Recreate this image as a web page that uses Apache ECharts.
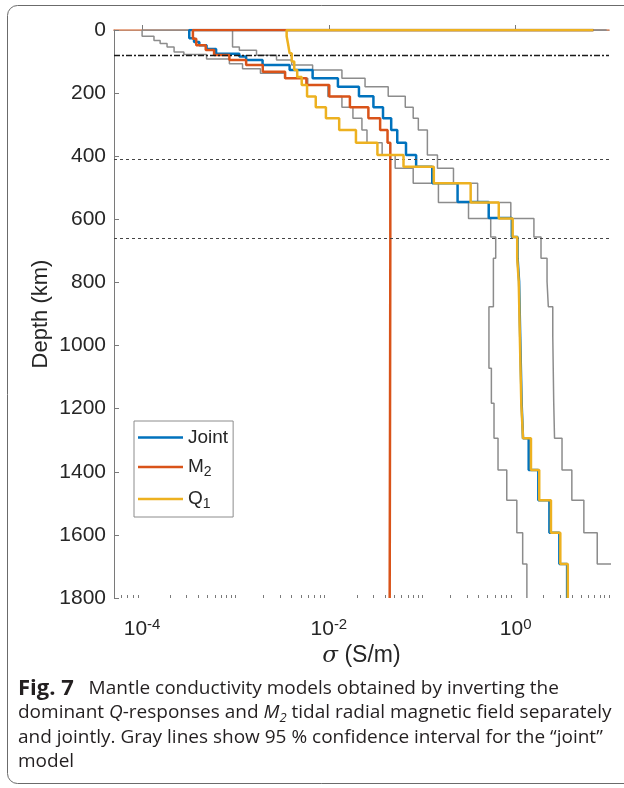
<!DOCTYPE html>
<html>
<head>
<meta charset="utf-8">
<title>Mantle conductivity models</title>
<script src="https://cdn.jsdelivr.net/npm/echarts@6/dist/echarts.min.js"></script>
<style>html,body{margin:0;padding:0;background:#fff;}</style>
</head>
<body>
<div id="main" style="width:624px;height:788px;"></div>
<script>
// layer boundaries (km) and conductivities (S/m)
var jointDepth = [0, 26, 38, 48, 60, 75, 84, 95, 111, 127, 153, 180, 210, 245, 280, 317, 357, 396, 433, 486, 545, 596, 656, 723, 797, 972, 1183, 1294, 1394, 1490, 1593, 1692, 1800];
var jointSigma = [3.2e-4, 3.6e-4, 4.1e-4, 4.9e-4, 6.2e-4, 1.1e-3, 1.3e-3, 1.95e-3, 3.8e-3, 6.7e-3, 0.0125, 0.021, 0.030, 0.038, 0.0465, 0.054, 0.067, 0.086, 0.128, 0.239, 0.515, 0.91, 1.05, 1.09, 1.12, 1.16, 1.20, 1.38, 1.75, 2.30, 2.94, 3.56];

var m2Depth = [0, 28, 48, 63, 79, 95, 111, 132, 153, 174, 211, 245, 280, 317, 357, 700, 1200, 1800];
var m2Sigma = [3.5e-4, 3.8e-4, 4.8e-4, 5.9e-4, 8.6e-4, 1.3e-3, 1.96e-3, 3.4e-3, 5.75e-3, 0.0101, 0.0168, 0.0265, 0.0354, 0.0425, 0.0455, 0.0452, 0.0448];

var q1Depth = [0, 20, 45, 74, 100, 127, 149, 174, 211, 245, 280, 317, 357, 396, 433, 486, 547, 597, 656, 723, 797, 972, 1183, 1294, 1394, 1490, 1593, 1692, 1800];
var q1Sigma = [3.53e-3, 3.66e-3, 3.8e-3, 4.0e-3, 4.26e-3, 4.58e-3, 5.12e-3, 5.84e-3, 7.24e-3, 9.3e-3, 0.0129, 0.0195, 0.0331, 0.063, 0.133, 0.33, 0.66, 0.93, 1.04, 1.08, 1.11, 1.15, 1.20, 1.46, 1.79, 2.39, 3.01, 3.62];

// 95 % confidence interval of the joint model
var lowDepth = [0, 20, 33, 43, 54, 70, 78, 92, 107, 123, 137, 153, 174, 211, 245, 280, 317, 357, 396, 438, 486, 547, 597, 656, 723, 877, 1072, 1183, 1294, 1394, 1490, 1593, 1692, 1800];
var lowSigma = [1.0e-4, 1.34e-4, 1.56e-4, 1.85e-4, 2.2e-4, 2.8e-4, 4.9e-4, 8.6e-4, 1.19e-3, 1.85e-3, 3.36e-3, 5.94e-3, 9.75e-3, 0.0138, 0.0181, 0.0226, 0.0256, 0.0372, 0.0513, 0.080, 0.149, 0.313, 0.541, 0.612, 0.578, 0.518, 0.55, 0.587, 0.648, 0.804, 1.03, 1.19, 1.32];

var upDepth = [0, 54, 64, 80, 95, 111, 127, 153, 180, 210, 245, 280, 317, 396, 438, 486, 547, 597, 656, 723, 797, 877, 972, 1183, 1294, 1394, 1490, 1593, 1692, 1800];
var upSigma = [9.3e-4, 1.1e-3, 1.68e-3, 2.75e-3, 4.0e-3, 6.7e-3, 0.0138, 0.0244, 0.0432, 0.0658, 0.080, 0.0908, 0.1135, 0.1455, 0.216, 0.392, 0.888, 1.57, 1.87, 2.17, 2.24, 2.5, 2.56, 2.61, 3.14, 4.0, 5.38, 7.48, 12];

// surface value each profile starts from (depth 0)
var surfModel = 6.8;
var surfCI = 9.4;

var lidDepth = 80;
var tzDepths = [410, 660];
var xLabelValues = [1e-4, 1e-2, 1];

var font = 'Liberation Sans';
var capFont = 'Open Sans';
var txt = '#262626';
var axisGray = '#7a7a7a';

function stairs(depths, sigmas, top) {
    var pts = [[top, 0]];
    for (var i = 0; i < sigmas.length; i++) {
        pts.push([sigmas[i], depths[i]]);
        pts.push([sigmas[i], depths[i + 1]]);
    }
    return pts;
}

// minor ticks of the log axis
var minorTicks = [];
for (var k = -5; k <= 1; k++) {
    for (var m = 1; m <= 9; m++) {
        var v = m * Math.pow(10, k);
        if (v >= 5e-5 && v <= 10 && !(m == 1 && k % 2 == 0 && k <= 0)) minorTicks.push(v);
    }
}

var chart = echarts.init(document.getElementById('main'));

function line(name, data, color, width, z) {
    return {
        name: name,
        type: 'line',
        data: data,
        symbol: 'none',
        showSymbol: false,
        clip: true,
        z: z,
        color: color,
        lineStyle: {color: color, width: width},
        emphasis: {disabled: true},
        animation: false
    };
}

var ciLow = line('ciLow', stairs(lowDepth, lowSigma, surfCI), '#8c8c8c', 1.5, 2);
ciLow.markLine = {
    silent: true,
    symbol: ['none', 'none'],
    label: {show: false},
    animation: false,
    data: [
        {yAxis: lidDepth, lineStyle: {type: [6, 2, 2, 2], color: '#1a1a1a', width: 1.3}},
        {yAxis: tzDepths[0], lineStyle: {type: [3, 3], color: '#444', width: 1}},
        {yAxis: tzDepths[1], lineStyle: {type: [3, 3], color: '#444', width: 1}}
    ]
};

var option = {
    backgroundColor: '#fff',
    animation: false,
    grid: {left: 114, right: 15, top: 30, bottom: 190},
    legend: {
        data: [
            {name: 'Joint', icon: 'rect'},
            {name: 'M2', icon: 'rect'},
            {name: 'Q1', icon: 'rect'}
        ],
        orient: 'vertical',
        left: 134,
        top: 421,
        itemWidth: 45,
        itemHeight: 2.5,
        itemGap: 10.5,
        padding: [7, 5, 6, 4],
        borderColor: '#8c8c8c',
        borderWidth: 1,
        borderRadius: 0,
        backgroundColor: '#fff',
        selectedMode: false,
        itemStyle: {borderWidth: 0},
        formatter: function (n) {
            if (n == 'M2') return '{t|M}{s|2}';
            if (n == 'Q1') return '{t|Q}{s|1}';
            return '{t|' + n + '}';
        },
        textStyle: {
            color: txt,
            fontFamily: font,
            rich: {
                t: {fontSize: 19, lineHeight: 24, color: txt, fontFamily: font},
                s: {fontSize: 14, lineHeight: 12, verticalAlign: 'bottom', color: txt, fontFamily: font}
            }
        }
    },
    xAxis: [{
        type: 'log',
        logBase: 10,
        min: 5e-5,
        max: 10,
        position: 'bottom',
        axisLine: {show: true, lineStyle: {color: axisGray, width: 1}},
        axisTick: {show: true, inside: true, length: 5, customValues: xLabelValues, lineStyle: {color: axisGray}},
        axisLabel: {
            customValues: xLabelValues,
            margin: 19,
            formatter: function (v) {
                return '{b|10}{e|' + Math.round(Math.log10(v)) + '}';
            },
            rich: {
                b: {fontSize: 21, lineHeight: 24, color: txt, fontFamily: font},
                e: {fontSize: 15, lineHeight: 10, verticalAlign: 'top', color: txt, fontFamily: font}
            }
        },
        splitLine: {show: false},
        name: '{i|σ} (S/m)',
        nameLocation: 'middle',
        nameGap: 44,
        nameTextStyle: {
            fontSize: 23, color: txt, fontFamily: font,
            rich: {
                i: {fontSize: 23, fontStyle: 'italic', color: txt, fontFamily: 'DejaVu Serif'}
            }
        }
    }, {
        type: 'log',
        logBase: 10,
        min: 5e-5,
        max: 10,
        position: 'bottom',
        axisLine: {show: false},
        axisTick: {show: true, inside: true, length: 3, customValues: minorTicks, lineStyle: {color: axisGray}},
        axisLabel: {show: false},
        splitLine: {show: false}
    }, {
        // thin surface line along depth 0
        type: 'log',
        logBase: 10,
        min: 5e-5,
        max: 10,
        position: 'top',
        axisLine: {show: true, lineStyle: {color: '#e0906a', width: 1.5}},
        axisTick: {show: false},
        axisLabel: {show: false},
        splitLine: {show: false}
    }],
    yAxis: {
        type: 'value',
        inverse: true,
        min: 0,
        max: 1800,
        interval: 200,
        axisLine: {show: true, lineStyle: {color: axisGray, width: 1}},
        axisTick: {show: true, inside: true, length: 5, lineStyle: {color: axisGray}},
        axisLabel: {
            fontSize: 21, color: txt, fontFamily: font, margin: 8,
            formatter: function (v) { return String(v); }
        },
        splitLine: {show: false},
        name: 'Depth (km)',
        nameLocation: 'middle',
        nameGap: 62,
        nameMoveOverlap: false,
        nameTextStyle: {fontSize: 22, color: txt, fontFamily: font}
    },
    series: [
        ciLow,
        line('ciUp', stairs(upDepth, upSigma, surfCI), '#8c8c8c', 1.5, 2),
        line('Joint', stairs(jointDepth, jointSigma, surfModel), '#0072BD', 2.5, 3),
        line('M2', stairs(m2Depth, m2Sigma, surfModel), '#D95319', 2.5, 4),
        line('Q1', stairs(q1Depth, q1Sigma, surfModel), '#EDB120', 2.5, 5)
    ],
    graphic: [
        {
            type: 'rect',
            silent: true,
            shape: {x: 7.5, y: 5.5, width: 680, height: 778, r: 10},
            style: {fill: 'none', stroke: '#6b6b6b', lineWidth: 1}
        },
        {
            type: 'text',
            x: 18,
            y: 676,
            silent: true,
            style: {
                text: '{b|Fig. 7}   Mantle conductivity models obtained by inverting the\n' +
                      'dominant {i|Q}-responses and {i|M}{s|2} tidal radial magnetic field separately\n' +
                      'and jointly. Gray lines show 95 % confidence interval for the \u201cjoint\u201d\n' +
                      'model',
                fontSize: 19,
                fontFamily: capFont,
                fill: '#231f20',
                lineHeight: 24.5,
                rich: {
                    b: {fontWeight: 'bold', fontSize: 22, lineHeight: 24.5, fontFamily: capFont, fill: '#231f20'},
                    i: {fontStyle: 'italic', fontSize: 19, lineHeight: 24.5, fontFamily: capFont, fill: '#231f20'},
                    s: {fontStyle: 'italic', fontSize: 13, lineHeight: 14, verticalAlign: 'bottom', fontFamily: capFont, fill: '#231f20'}
                }
            }
        }
    ]
};

chart.setOption(option);
</script>
</body>
</html>
